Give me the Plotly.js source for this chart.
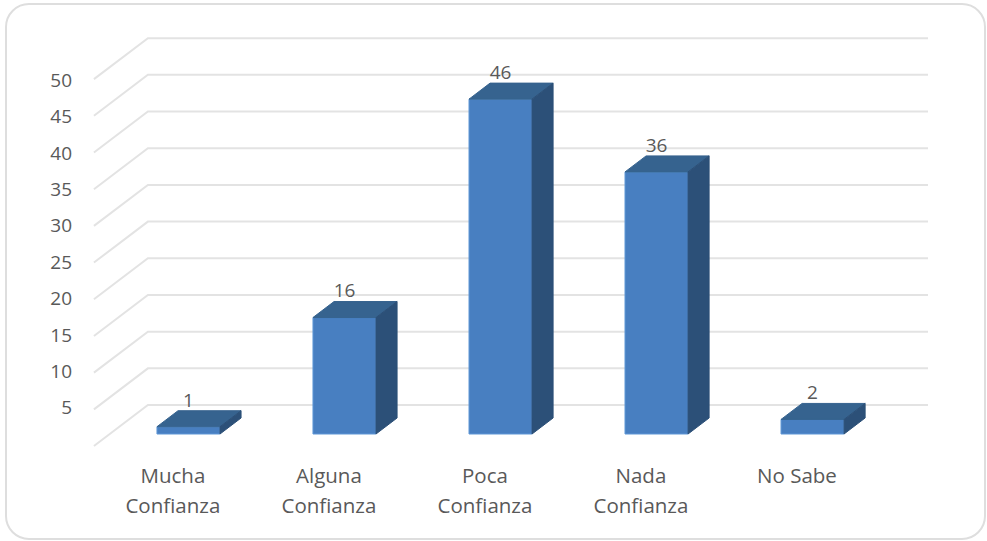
<!DOCTYPE html>
<html><head><meta charset="utf-8">
<script src="https://cdn.plot.ly/plotly-3.0.1.min.js"></script>
<style>
html,body{margin:0;padding:0;background:#fff;overflow:hidden}
#frame{position:absolute;left:5px;top:3px;width:977px;height:533px;border:2px solid #dedede;border-radius:24px;box-sizing:content-box}
#chart{position:absolute;left:0;top:0;width:987px;height:541px}
</style></head><body>
<div id="frame"></div><div id="chart"></div>
<script>
var categories = ["Mucha<br>Confianza","Alguna<br>Confianza","Poca<br>Confianza","Nada<br>Confianza","No Sabe"];
var values = [1,16,46,36,2];
var axisTicks = [5,10,15,20,25,30,35,40,45,50];
var gridLevels = [0,5,10,15,20,25,30,35,40,45,50];

// pseudo-3D projection, in axis units
var barWidth = 0.404, depthX = 0.135, depthY = 2.2;
var wallBase = 3.98, wallScale = 1.008, wallLeft = -0.26, wallRight = 4.74;
var frontDrop = 5.63, frontDX = 0.346;
var tickShift = -1.4, catLabelShift = -0.1;

var ink = "#595959", font = '"Open Sans", sans-serif';
var idx = values.map(function(_,i){return i;});

var traces = [{
  type:"bar", x:idx, y:values, width:barWidth, hoverinfo:"skip", showlegend:false,
  marker:{color:"#487fc1", line:{color:"#5f97d6", width:1}}
}];
idx.forEach(function(i){
  var l=i-barWidth/2, r=i+barWidth/2, v=values[i];
  traces.push({type:"scatter",mode:"lines",fill:"toself",fillcolor:"#36638f",hoverinfo:"skip",showlegend:false,
    line:{color:"#36638f",width:1},
    x:[l,l+depthX,r+depthX,r,l], y:[v,v+depthY,v+depthY,v,v]});
  traces.push({type:"scatter",mode:"lines",fill:"toself",fillcolor:"#2c5078",hoverinfo:"skip",showlegend:false,
    line:{color:"#2c5078",width:1},
    x:[r,r+depthX,r+depthX,r,r], y:[v,v+depthY,depthY,0,v]});
});
traces.push({type:"scatter",mode:"text",x:idx,y:values.map(function(v){return v+depthY-0.1;}),
  text:values.map(String),textposition:"top center",cliponaxis:false,hoverinfo:"skip",showlegend:false,
  textfont:{family:font,size:19,color:ink}});

var shapes = gridLevels.map(function(v){
  var w = wallBase + v*wallScale;
  return {type:"path",layer:"below",xref:"x",yref:"y",
    path:"M"+(wallLeft-frontDX)+" "+(w-frontDrop)+" L"+wallLeft+" "+w+" L"+wallRight+" "+w,
    line:{color:"#e3e3e3",width:2}};
});

var layout = {
  width:987,height:541,showlegend:false,
  paper_bgcolor:"rgba(0,0,0,0)",plot_bgcolor:"rgba(0,0,0,0)",
  margin:{l:76,r:47,t:20,b:81,pad:0},
  font:{family:font,color:ink,size:19},
  xaxis:{range:[-0.721,4.817],showgrid:false,zeroline:false,showline:false,ticks:"",
    tickmode:"array",tickvals:idx.map(function(i){return i+catLabelShift;}),ticktext:categories,
    tickangle:0,ticklabelstandoff:1,tickfont:{family:font,size:20.5,color:ink}},
  yaxis:{range:[-3.57,56.87],showgrid:false,zeroline:false,showline:false,ticks:"",
    tickmode:"array",tickvals:axisTicks.map(function(v){return v+tickShift;}),ticktext:axisTicks.map(String),
    ticklabelstandoff:3,tickfont:{family:font,size:19,color:ink}},
  shapes:shapes
};
function spaceLines(){
  document.querySelectorAll(".xtick tspan.line").forEach(function(t){
    if(parseFloat(t.getAttribute("dy"))>0) t.setAttribute("dy","1.5em");
  });
}
var gd=document.getElementById("chart");
Plotly.newPlot(gd,traces,layout,{displayModeBar:false,staticPlot:true}).then(function(){
  spaceLines(); gd.on("plotly_afterplot",spaceLines);
});
</script></body></html>
